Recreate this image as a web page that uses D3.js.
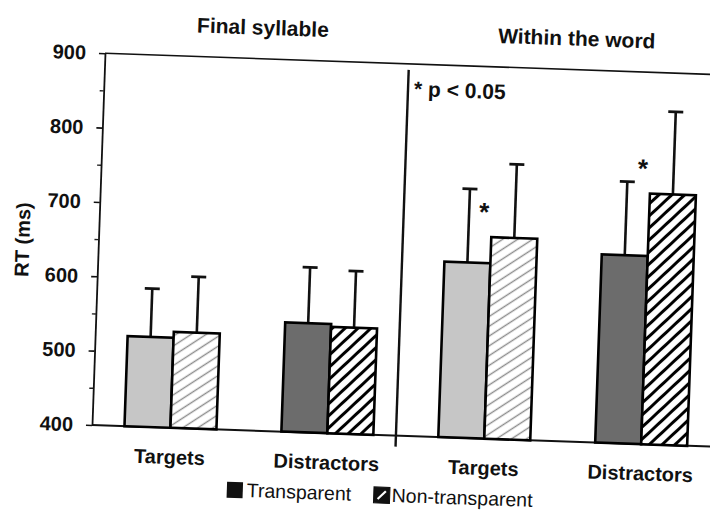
<!DOCTYPE html>
<html>
<head>
<meta charset="utf-8">
<script src="https://cdn.jsdelivr.net/npm/d3@7"></script>
<style>
  html, body { margin: 0; padding: 0; background: #fff; }
  svg { display: block; font-family: "Liberation Sans", Arial, Helvetica, sans-serif; }
</style>
</head>
<body>
<svg id="chart" width="710" height="510"></svg>
<script>
// Mean reaction times (ms) per column:
// Final syllable – Targets, Final syllable – Distractors,
// Within the word – Targets, Within the word – Distractors
const sections = ["Final syllable", "Within the word"];
const categories = ["Targets", "Distractors"];
const conditions = ["Transparent", "Non-transparent"];
const transparentRT = [521, 547, 636, 653];
const nonTransparentRT = [529, 543, 671, 737];
const transparentSD = [65, 75, 99, 99];
const nonTransparentSD = [75, 76, 99, 111];
const significant = [false, false, true, true];
const yTicks = [400, 500, 600, 700, 800, 900];
const yMinorTicks = [450, 550, 650, 750, 850];
const yLabel = "RT (ms)";
const noteText = "* p < 0.05";

// one column per section × category
const columns = sections.flatMap(s => categories.map(c => ({ section: s, category: c, key: s + " / " + c })));
const rows = columns.map((col, i) => ({
  ...col,
  values: [
    { condition: conditions[0], rt: transparentRT[i], sd: transparentSD[i] },
    { condition: conditions[1], rt: nonTransparentRT[i], sd: nonTransparentSD[i] }
  ],
  significant: significant[i]
}));

const svg = d3.select("#chart");
const defs = svg.append("defs");

function hatch(id, spacing, angle, color, width) {
  const p = defs.append("pattern")
    .attr("id", id)
    .attr("patternUnits", "userSpaceOnUse")
    .attr("width", spacing).attr("height", spacing)
    .attr("patternTransform", `rotate(${angle})`);
  p.append("rect").attr("width", spacing).attr("height", spacing).attr("fill", "#fff");
  p.append("line")
    .attr("x1", spacing / 2).attr("x2", spacing / 2)
    .attr("y1", -1).attr("y2", spacing + 1)
    .attr("stroke", color).attr("stroke-width", width);
}
hatch("hatchLight", 8.2, 55, "#8c8c8c", 1.4);
hatch("hatchDark", 8.8, 45, "#000", 3);

function fillFor(category, condition) {
  if (category === "Targets") return condition === "Transparent" ? "#c6c6c6" : "url(#hatchLight)";
  return condition === "Transparent" ? "#6c6c6c" : "url(#hatchDark)";
}

// plot frame
const plotLeft = 92, plotRight = 720, plotTop = 53, plotBottom = 425, frameRight = 745;

// the printed figure sits at a slight tilt
const g = svg.append("g").attr("transform", `rotate(2, ${plotLeft}, ${plotBottom})`);

const x = d3.scaleBand()
  .domain(columns.map(d => d.key))
  .range([plotLeft, plotRight])
  .paddingInner(0.414)
  .paddingOuter(0.207);

const xInner = d3.scaleBand()
  .domain(conditions)
  .range([0, x.bandwidth()]);

const y = d3.scaleLinear().domain([400, 900]).range([plotBottom, plotTop]);

// top border and baseline
g.append("line")
  .attr("x1", plotLeft).attr("x2", frameRight)
  .attr("y1", y(900)).attr("y2", y(900))
  .attr("stroke", "#111").attr("stroke-width", 1.6);
g.append("line")
  .attr("x1", plotLeft).attr("x2", frameRight)
  .attr("y1", y(400)).attr("y2", y(400))
  .attr("stroke", "#111").attr("stroke-width", 2);

// y axis: minor then major ticks
g.append("g")
  .attr("transform", `translate(${plotLeft},0)`)
  .call(d3.axisLeft(y).tickValues(yMinorTicks).tickSize(4).tickFormat(""))
  .call(a => a.select(".domain").remove())
  .call(a => a.selectAll("line").attr("stroke", "#222").attr("stroke-width", 1.4));

g.append("g")
  .attr("transform", `translate(${plotLeft},0)`)
  .call(d3.axisLeft(y).tickValues(yTicks).tickSize(6).tickSizeOuter(0).tickPadding(13))
  .call(a => a.select(".domain").attr("stroke", "#111").attr("stroke-width", 1.8))
  .call(a => a.selectAll(".tick line").attr("stroke", "#111").attr("stroke-width", 1.6))
  .call(a => a.selectAll("text")
    .attr("fill", "#111")
    .attr("font-size", 20)
    .attr("font-weight", "bold")
    .attr("font-family", "'Liberation Sans', Arial, sans-serif"));

// y axis title
g.append("text")
  .attr("transform", `translate(23, ${(y(400) + y(900)) / 2 + 3}) rotate(-90)`)
  .attr("text-anchor", "middle")
  .attr("font-size", 20)
  .attr("font-weight", "bold")
  .attr("fill", "#111")
  .text(yLabel);

// category labels
g.append("g")
  .attr("transform", `translate(0,${plotBottom})`)
  .call(d3.axisBottom(x).tickSize(0).tickPadding(22)
    .tickFormat(k => columns.find(c => c.key === k).category))
  .call(a => a.select(".domain").remove())
  .call(a => a.selectAll("text")
    .attr("fill", "#111")
    .attr("font-size", 20)
    .attr("font-weight", "bold")
    .attr("font-family", "'Liberation Sans', Arial, sans-serif"));

// section titles, centred over their pair of columns
sections.forEach(s => {
  const keys = columns.filter(c => c.section === s).map(c => c.key);
  const cx = (x(keys[0]) + x(keys[keys.length - 1]) + x.bandwidth()) / 2;
  g.append("text")
    .attr("x", cx).attr("y", 29)
    .attr("text-anchor", "middle")
    .attr("font-size", 21)
    .attr("font-weight", "bold")
    .attr("fill", "#111")
    .text(s);
});

// divider between the two sections
const firstWithin = columns.find(c => c.section === sections[1]).key;
const divX = x(firstWithin) - x.step() * 0.27;
g.append("line")
  .attr("x1", divX).attr("x2", divX)
  .attr("y1", plotTop + 6).attr("y2", plotBottom + 11)
  .attr("stroke", "#111").attr("stroke-width", 2.4);

g.append("text")
  .attr("x", divX + 6).attr("y", 85)
  .attr("font-size", 21)
  .attr("font-weight", "bold")
  .attr("fill", "#111")
  .text(noteText);

// bars
const cols = g.selectAll(".col").data(rows).join("g")
  .attr("class", "col")
  .attr("transform", d => `translate(${x(d.key)},0)`);

// error bars (upper whisker only), drawn behind the bars
cols.selectAll(".err").data(d => d.values).join("g")
  .attr("class", "err")
  .each(function (v) {
    const cx = xInner(v.condition) + xInner.bandwidth() / 2;
    const sel = d3.select(this);
    sel.append("line")
      .attr("x1", cx).attr("x2", cx)
      .attr("y1", y(v.rt)).attr("y2", y(v.rt + v.sd))
      .attr("stroke", "#111").attr("stroke-width", 2.6);
    sel.append("line")
      .attr("x1", cx - 7.5).attr("x2", cx + 7.5)
      .attr("y1", y(v.rt + v.sd)).attr("y2", y(v.rt + v.sd))
      .attr("stroke", "#111").attr("stroke-width", 2.8);
  });

cols.selectAll(".bar").data(d => d.values.map(v => ({ ...v, category: d.category }))).join("rect")
  .attr("class", "bar")
  .attr("x", v => xInner(v.condition))
  .attr("width", xInner.bandwidth())
  .attr("y", v => y(v.rt))
  .attr("height", v => y(400) - y(v.rt))
  .attr("fill", v => fillFor(v.category, v.condition))
  .attr("stroke", "#000")
  .attr("stroke-width", 2.6);

// significance markers
cols.filter(d => d.significant).append("text")
  .attr("x", xInner(conditions[1]) - 8)
  .attr("y", d => y(d.values[1].rt) - 16)
  .attr("text-anchor", "middle")
  .attr("font-size", 26)
  .attr("font-weight", "bold")
  .attr("fill", "#111")
  .text("*");

// legend
const legend = g.append("g").attr("transform", "translate(229, 477)");
const lg1 = legend.append("g");
lg1.append("rect").attr("width", 16).attr("height", 16).attr("fill", "#111");
lg1.append("text").attr("x", 20).attr("y", 14.5)
  .attr("font-size", 19.5).attr("fill", "#111").text(conditions[0]);

const lg2 = legend.append("g").attr("transform", "translate(147,0)");
lg2.append("rect").attr("width", 16).attr("height", 16)
  .attr("fill", "#111").attr("stroke", "#111").attr("stroke-width", 1);
lg2.append("line").attr("x1", 4).attr("y1", 12).attr("x2", 12).attr("y2", 4)
  .attr("stroke", "#fff").attr("stroke-width", 2.2);
lg2.append("text").attr("x", 18).attr("y", 14.5)
  .attr("font-size", 19.5).attr("fill", "#111").text(conditions[1]);
</script>
</body>
</html>
